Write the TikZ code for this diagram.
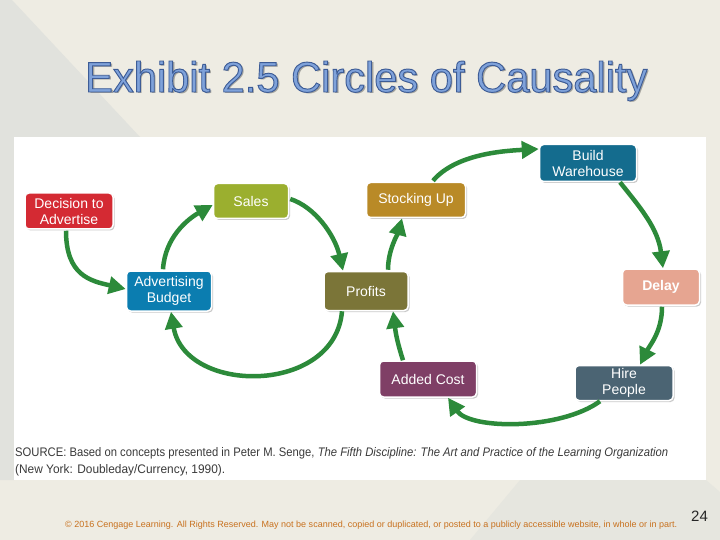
\documentclass[tikz,border=0pt]{standalone}
\usepackage{fontspec}
\setmainfont{Liberation Sans}
\usetikzlibrary{arrows.meta,calc,shadows}
\definecolor{bgbeige}{HTML}{EEECE3}
\definecolor{bggray}{HTML}{E1E2DD}
\definecolor{titlefill}{HTML}{7FA2DA}
\definecolor{titleline}{HTML}{3D5C96}
\definecolor{titleshadow}{HTML}{A3A39E}
\definecolor{arrowgreen}{HTML}{2C8A3A}
\definecolor{cdec}{HTML}{D42A33}
\definecolor{csales}{HTML}{9BAF2F}
\definecolor{cadv}{HTML}{0B7DB0}
\definecolor{cprof}{HTML}{7B7538}
\definecolor{cstock}{HTML}{B98A27}
\definecolor{cbw}{HTML}{146C8E}
\definecolor{cdelay}{HTML}{E6A591}
\definecolor{cadded}{HTML}{7F3F66}
\definecolor{chire}{HTML}{4B6473}
\definecolor{srctext}{HTML}{3A3A3A}
\definecolor{foottext}{HTML}{C8711E}
\newcommand{\ttltext}{\resizebox{562pt}{31pt}{Exhibit 2.5 Circles of Causality}}
\newcommand{\ttloutlined}{\special{pdf:literal direct 0.24 0.36 0.59 RG 0.22 w 2 Tr}\resizebox{562pt}{31pt}{Exhibit 2.5 Circles of Causality}\special{pdf:literal direct 0 Tr}}
\begin{document}
\begin{tikzpicture}[x=1pt,y=-1pt,
  box/.style={draw=white, line width=1.5pt, rounded corners=4pt, text=white,
    font=\fontsize{14}{16}\selectfont, align=center, inner sep=0pt,
    drop shadow={shadow xshift=1.5pt, shadow yshift=-1.5pt, opacity=0.35, fill=black!60}},
  link/.style={draw=arrowgreen, line width=4.5pt, -{Triangle[length=17pt,width=17pt]}},
  ttl/.style={anchor=base west, inner sep=0pt}
]
\useasboundingbox (0,0) rectangle (720,540);
\fill[bgbeige] (0,0) rectangle (720,540);
\fill[bggray] (0,0) -- (12,0) -- (140,137) -- (14,137) -- (14,480) -- (0,480) -- cycle;
\fill[bggray!60!bgbeige] (520,480) -- (706,480) -- (720,492) -- (720,540) -- (470,540) -- cycle;
\fill[white] (14,137) rectangle (706,480);

% title
\node[ttl, text=titleshadow] (tshadow) at (87,94) {\ttltext};
\node[ttl, text=titlefill] (title) at (85,92) {\ttloutlined};

% boxes
\node[box, fill=cdec, minimum width=88pt, minimum height=36pt] (dec) at (69,211) {Decision to\\Advertise};
\node[box, fill=csales, minimum width=75pt, minimum height=35pt] (sales) at (251,201) {Sales};
\node[box, fill=cadv, minimum width=85pt, minimum height=40pt] (adv) at (169,291) {Advertising\\Budget};
\node[box, fill=cprof, minimum width=84pt, minimum height=39pt] (prof) at (366,291) {Profits};
\node[box, fill=cstock, minimum width=99pt, minimum height=35pt] (stock) at (416,200) {Stocking Up};
\node[box, fill=cbw, minimum width=97pt, minimum height=37pt] (bw) at (588,163) {Build\\Warehouse};
\node[box, fill=cdelay, minimum width=77pt, minimum height=36pt, font=\fontsize{14}{16}\selectfont\bfseries] (delay) at (661,287) {Delay};
\node[box, fill=cadded, minimum width=97pt, minimum height=36pt] (added) at (428,379) {Added Cost};
\node[box, fill=chire, minimum width=98pt, minimum height=35pt] (hire) at (624,383) {Hire\\People};

% connectors
\draw[link] ($(dec.south)+(-3,1)$) .. controls +(0,45) and +(-35,-8) .. ($(adv.west)+(0,-2)$);
\draw[link] ($(adv.north)+(-6,-1)$) .. controls +(2,-32) and +(-25,14) .. ($(sales.west)+(0,4)$);
\draw[link] ($(sales.east)+(1,-2)$) .. controls +(25,8) and +(-8,-35) .. ($(prof.north)+(-23,0)$);
\draw[link] ($(prof.north)+(22,-1)$) .. controls +(0,-20) and +(-4,15) .. ($(stock.south)+(-14,0)$);
\draw[link] ($(stock.north)+(17,-1)$) .. controls +(22,-26) and +(-38,2) .. ($(bw.west)+(0,-14)$);
\draw[link] ($(bw.south)+(32,0)$) .. controls +(20,25) and +(-5,-40) .. ($(delay.north)+(2,0)$);
\draw[link] ($(delay.south)+(1,1)$) .. controls +(0,25) and +(10,-20) .. ($(hire.north)+(16,0)$);
\draw[link] ($(hire.south)+(-24,0)$) .. controls +(-40,29) and +(22,32) .. ($(added.south)+(20,0)$);
\draw[link] ($(added.north)+(-25,0)$) .. controls +(-8,-25) and +(2,15) .. ($(prof.south)+(27,0)$);
\draw[link] ($(prof.south)+(-24,0)$) .. controls +(-7,84) and +(14,83) .. ($(adv.south)+(2,0)$);

% source
\node[anchor=base west, inner sep=0pt, text=srctext] (src1) at (15,456)
  {\resizebox{653pt}{9pt}{SOURCE: Based on concepts presented in Peter M. Senge, \textit{The Fifth Discipline: The Art and Practice of the Learning Organization}}};
\node[anchor=base west, inner sep=0pt, text=srctext] (src2) at (15,473)
  {\resizebox{210pt}{9pt}{(New York: Doubleday/Currency, 1990).}};

% footer
\node[anchor=base west, inner sep=0pt, text=foottext] (foot) at (65,527)
  {\resizebox{612pt}{6.5pt}{© 2016 Cengage Learning. All Rights Reserved. May not be scanned, copied or duplicated, or posted to a publicly accessible website, in whole or in part.}};
\node[anchor=base west, inner sep=0pt, text=black!85, font=\fontsize{15}{18}\selectfont] (pnum) at (691,521) {24};
\end{tikzpicture}
\end{document}
